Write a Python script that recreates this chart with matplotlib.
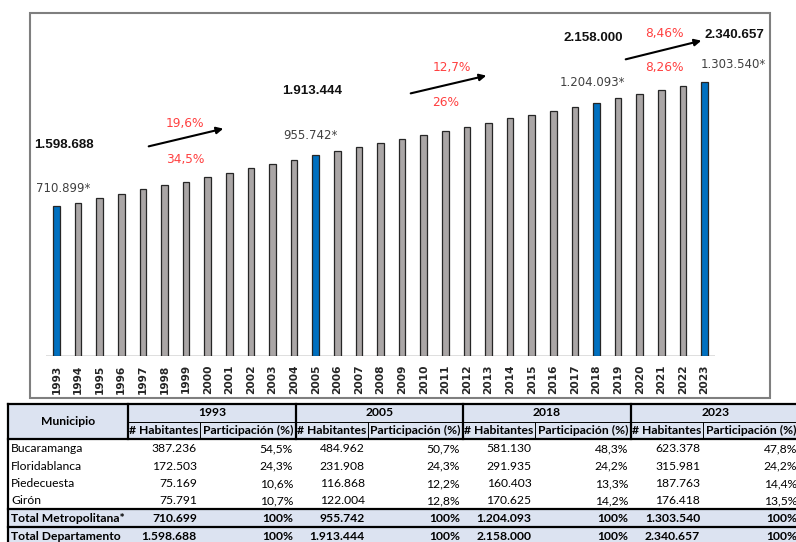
import numpy as np
import matplotlib
matplotlib.use('Agg')
import matplotlib.pyplot as plt
from matplotlib.patches import Rectangle

# --------------------------------------------------------------------------------------------------
# data

years = list(range(1993, 2024))
poblacion = [710899, 726000, 750000, 769000, 792000, 811000, 828000, 852000, 871000, 894000,
             913000, 931000, 955742, 974000, 993000, 1010000, 1029000, 1048000, 1067000, 1089000,
             1108000, 1129000, 1146000, 1165000, 1183000, 1204093, 1224000, 1243000, 1262000,
             1281000, 1303540]
censo_years = [1993, 2005, 2018, 2023]

total_depto = ['1.598.688', '1.913.444', '2.158.000', '2.340.657']
crec_depto = ['19,6%', '12,7%', '8,46%']
crec_metro = ['34,5%', '26%', '8,26%']

municipios = ['Bucaramanga', 'Floridablanca', 'Piedecuesta', 'Girón']
hab_1993 = ['387.236', '172.503', '75.169', '75.791']
pct_1993 = ['54,5%', '24,3%', '10,6%', '10,7%']
hab_2005 = ['484.962', '231.908', '116.868', '122.004']
pct_2005 = ['50,7%', '24,3%', '12,2%', '12,8%']
hab_2018 = ['581.130', '291.935', '160.403', '170.625']
pct_2018 = ['48,3%', '24,2%', '13,3%', '14,2%']
hab_2023 = ['623.378', '315.981', '187.763', '176.418']
pct_2023 = ['47,8%', '24,2%', '14,4%', '13,5%']
total_rows = ['Total Metropolitana*', 'Total Departamento']
tot_metro = ['710.699', '955.742', '1.204.093', '1.303.540']
tot_depto = ['1.598.688', '1.913.444', '2.158.000', '2.340.657']

# --------------------------------------------------------------------------------------------------

W, H = 796, 542
fig = plt.figure(figsize=(W/100, H/100), dpi=100)

# background axes in pixel coordinates (box + table)
bg = fig.add_axes([0, 0, 1, 1])
bg.set_xlim(0, W); bg.set_ylim(H, 0)
bg.axis('off')

grey = '#aaa6a6'
blue = '#0070c0'
red = '#ff4040'
hdr = '#dce3f1'
tfont = 'Lato'
tsize = 8.7

# chart box
bg.add_patch(Rectangle((30, 13), 740, 385, fill=False, ec='#7f7f7f', lw=1.5))

# bar chart
x0, dx, base, px_per = 56.5, 21.6, 356, 4750.0
left = x0 - 0.5*dx
right = left + len(years)*dx
top = 29.7
ax = fig.add_axes([left/W, (H-base)/H, (right-left)/W, (base-top)/H])
ax.set_xlim(-0.5, len(years)-0.5)
ax.set_ylim(0, (base-top)*px_per)
ax.patch.set_alpha(0)

xs = np.arange(len(years))
cols = [blue if y in censo_years else grey for y in years]
ax.bar(xs, poblacion, width=0.3, color=cols, edgecolor='#262626', linewidth=0.9, zorder=3)
ax.axhline(0, color='#d9d9d9', lw=1.2, zorder=2)
for s in ax.spines.values():
    s.set_visible(False)
ax.set_yticks([])
ax.set_xticks(xs)
ax.set_xticklabels([str(y) for y in years], rotation=90, fontsize=7.7, color='#262626',
                   fontweight='bold', family='DejaVu Sans')
ax.tick_params(axis='x', length=0, pad=6)

# labels on census bars
offsets = [(6.5, 11), (-5, 12.5), (-4, 14), (29, 10.5)]
for yr, off in zip(censo_years, offsets):
    i = years.index(yr)
    v = poblacion[i]
    lab = f'{v:,}'.replace(',', '.') + '*'
    ax.annotate(lab, xy=(i, v), xytext=off, textcoords='offset pixels', ha='center',
                va='bottom', fontsize=8.5, color='#404040', annotation_clip=False)

# department totals, growth rates and arrows
tot_pos = [(64, 145), (312, 91), (593, 38), (734, 35)]
for t, (px, py) in zip(total_depto, tot_pos):
    bg.text(px, py, t, ha='center', va='center', fontsize=9.6, fontweight='bold',
            family='Liberation Sans', color='#111111')

dep_pos = [(185, 124), (452, 67), (664, 33)]
met_pos = [(185, 159), (446, 103), (664, 68)]
for t, (px, py) in zip(crec_depto, dep_pos):
    bg.text(px, py, t, ha='center', va='center', fontsize=8.7, color=red)
for t, (px, py) in zip(crec_metro, met_pos):
    bg.text(px, py, t, ha='center', va='center', fontsize=8.7, color=red)

arrows = [((146, 147), (226, 128)), ((408, 94), (489, 75)), ((623, 60), (704, 40))]
for a, b in arrows:
    bg.annotate('', xy=b, xytext=a,
                arrowprops=dict(arrowstyle='-|>', color='black', lw=1.5, mutation_scale=10))

# --------------------------------------------------------------------------------------------------
# table

tl, tr = 8, 800
g0 = [128, 296, 463, 631]
g1 = [200, 368, 534.5, 703]
g2 = [296, 463, 631, 800]
y_top, y_mid, y_hdr = 404, 422, 439
row_y = [449, 466.3, 483.6, 501]
y_sep1, y_sep2 = 508.5, 527
tot_y = [518, 536.5]

bg.add_patch(Rectangle((tl, y_top), tr-tl, y_hdr-y_top, fc=hdr, ec='none'))
bg.add_patch(Rectangle((tl, y_sep1), tr-tl, 545-y_sep1, fc=hdr, ec='none'))

bg.plot([tl, tr], [y_top, y_top], color='black', lw=1.6)
bg.plot([tl, tl], [y_top, 545], color='black', lw=1.6)
bg.plot([g0[0], tr], [y_mid, y_mid], color='black', lw=0.7)
bg.plot([tl, tr], [y_hdr, y_hdr], color='black', lw=1.6)
bg.plot([tl, tr], [y_sep1, y_sep1], color='black', lw=1.6)
bg.plot([tl, tr], [y_sep2, y_sep2], color='black', lw=1.6)
for gx in g0:
    bg.plot([gx, gx], [y_top, y_hdr], color='black', lw=1.6)
for gx in g1:
    bg.plot([gx, gx], [y_mid, y_hdr], color='black', lw=0.7)

bg.text((tl+g0[0])/2, (y_top+y_hdr)/2, 'Municipio', ha='center', va='center', fontsize=tsize,
        fontweight='bold', family=tfont)
for yr, a, m, b in zip(censo_years, g0, g1, g2):
    bg.text((a+b)/2, (y_top+y_mid)/2, str(yr), ha='center', va='center', fontsize=tsize,
            fontweight='bold', family=tfont)
    bg.text((a+m)/2, (y_mid+y_hdr)/2, '# Habitantes', ha='center', va='center', fontsize=tsize,
            fontweight='bold', family=tfont)
    bg.text((m+b)/2, (y_mid+y_hdr)/2, 'Participación (%)', ha='center', va='center',
            fontsize=tsize, fontweight='bold', family=tfont)

habs = [hab_1993, hab_2005, hab_2018, hab_2023]
pcts = [pct_1993, pct_2005, pct_2018, pct_2023]
for r, name in enumerate(municipios):
    ry = row_y[r]
    bg.text(tl+3, ry, name, ha='left', va='center', fontsize=tsize, family=tfont)
    for h, p, m, b in zip(habs, pcts, g1, g2):
        bg.text(m-3, ry, h[r], ha='right', va='center', fontsize=tsize, family=tfont)
        bg.text(b-3, ry, p[r], ha='right', va='center', fontsize=tsize, family=tfont)

for name, vals, ry in zip(total_rows, [tot_metro, tot_depto], tot_y):
    bg.text(tl+3, ry, name, ha='left', va='center', fontsize=tsize, fontweight='bold',
            family=tfont)
    for v, m, b in zip(vals, g1, g2):
        bg.text(m-3, ry, v, ha='right', va='center', fontsize=tsize, fontweight='bold',
                family=tfont)
        bg.text(b-3, ry, '100%', ha='right', va='center', fontsize=tsize, fontweight='bold',
                family=tfont)

fig.savefig('out.png', dpi=100)
